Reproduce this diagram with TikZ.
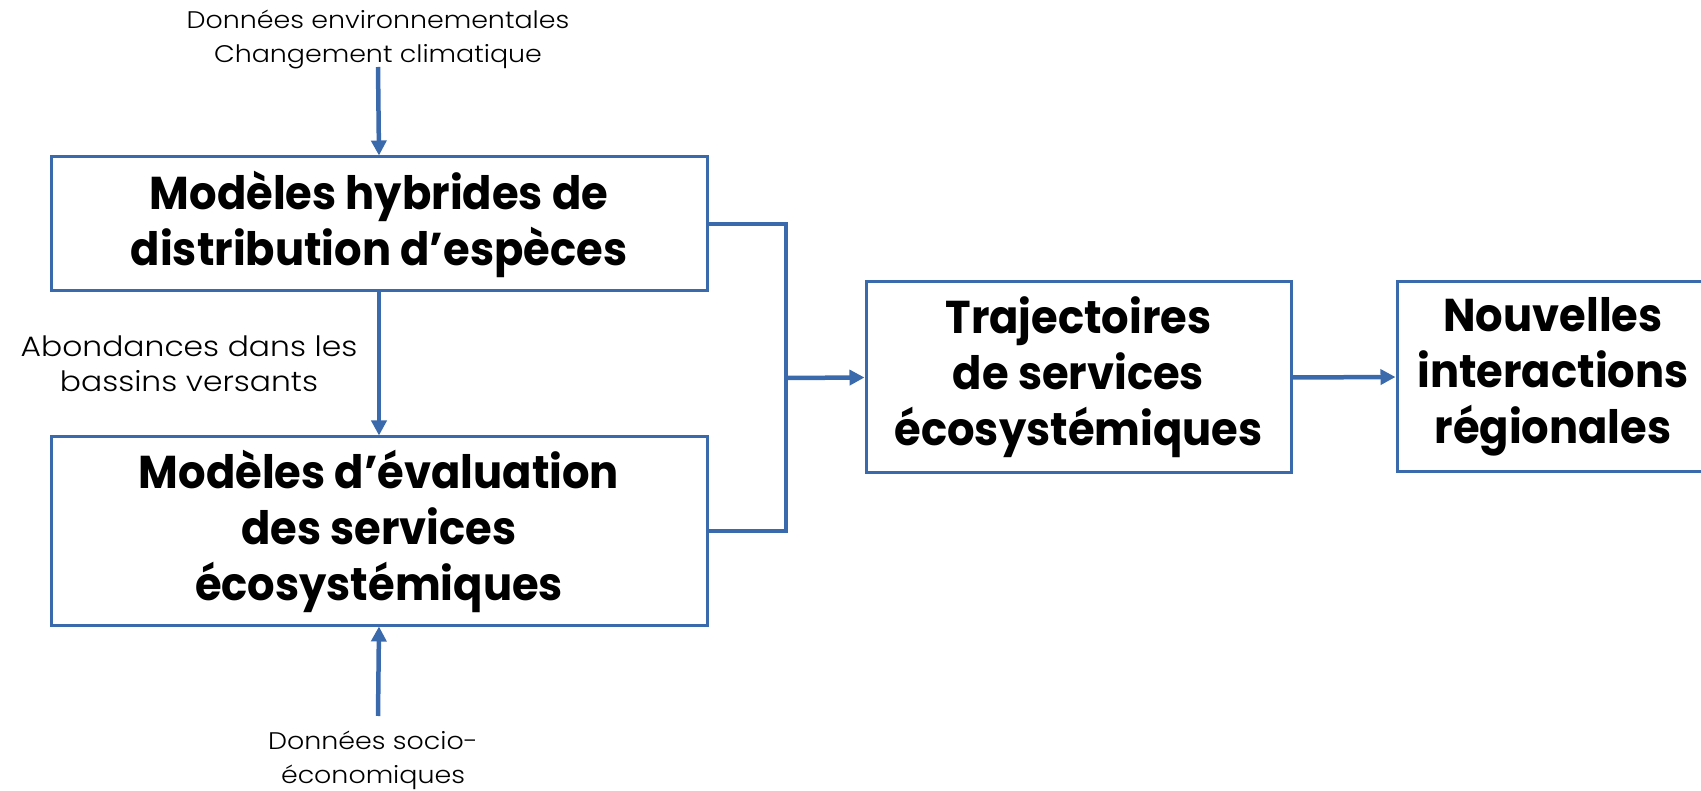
\documentclass[tikz,border=0pt]{standalone}
\usepackage{fontspec}
\setmainfont{Poppins}[BoldFeatures={FakeStretch=0.94}]
\newfontfamily\lightfont{Poppins}[UprightFont=* Light, FakeStretch=1.12]
\usetikzlibrary{arrows.meta}
\definecolor{cblue}{RGB}{58,106,172}
\tikzset{
  box/.style={draw=cblue, line width=3pt, fill=white, align=center, inner sep=0pt,
    font=\fontsize{46}{56}\selectfont\bfseries},
  lab/.style={align=center, inner sep=0pt, font=\lightfont\fontsize{24}{34}\selectfont},
  biglab/.style={align=center, inner sep=0pt, font=\lightfont\fontsize{28}{35}\selectfont},
  conn/.style={draw=cblue, line width=4.5pt},
  arr/.style={conn, -{Triangle[length=15pt,width=15pt]}}
}
\begin{document}
\begin{tikzpicture}[x=1pt,y=-1pt]
\useasboundingbox (0,0) rectangle (1701,791);
\node[box, minimum width=656pt, minimum height=134pt] (A) at (379,224) {Modèles hybrides de\\distribution d’espèces};
\node[box, minimum width=656pt, minimum height=188pt] (B) at (379,531) {Modèles d’évaluation\\des services\\écosystémiques};
\node[box, minimum width=425pt, minimum height=191pt] (C) at (1078.5,377.5) {Trajectoires\\de services\\écosystémiques};
\node[box, minimum width=312pt, minimum height=190pt] (D) at (1553,377) {Nouvelles\\interactions\\régionales};
\node[lab] (T) at (378,39) {Données environnementales\\Changement climatique};
\node[biglab] (L) at (189,364) {Abondances dans les\\bassins versants};
\node[lab] (S) at (373,760) {Données socio-\\économiques};
\coordinate (tin) at (378,67);
\coordinate (bin) at (378,716);
\coordinate (j) at (786,378);
\draw[arr] (tin) -- (A.north);
\draw[arr] (bin) -- (B.south);
\draw[arr] (A.south) -- (B.north);
\draw[conn] (A.east) -| (j) |- (B.east);
\draw[arr] (j) -- (C.west);
\draw[arr] (C.east) -- (D.west);
\end{tikzpicture}
\end{document}
